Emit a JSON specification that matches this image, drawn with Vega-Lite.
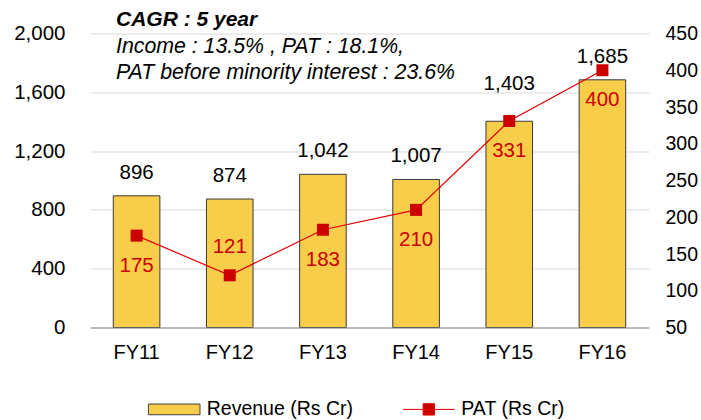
{
  "$schema": "https://vega.github.io/schema/vega-lite/v6.json",
  "width": 559,
  "height": 294,
  "autosize": {"type": "none"},
  "padding": {"left": 90, "top": 33.5, "right": 52, "bottom": 92.5},
  "background": "white",
  "config": {
    "font": "Liberation Sans",
    "view": {"stroke": null},
    "axis": {"labelFont": "Liberation Sans", "labelFontSize": 20.5, "labelColor": "black", "ticks": false, "domain": false, "title": null}
  },
  "title": {
    "text": "CAGR : 5 year",
    "subtitle": ["Income : 13.5% , PAT : 18.1%,", "PAT before minority interest : 23.6%"],
    "anchor": "start",
    "frame": "group",
    "offset": -60,
    "dx": 26,
    "font": "Liberation Sans",
    "fontSize": 21,
    "fontStyle": "italic",
    "fontWeight": "bold",
    "color": "black",
    "subtitleFont": "Liberation Sans",
    "subtitleFontSize": 21.3,
    "subtitleFontStyle": "italic",
    "subtitleColor": "black",
    "subtitleLineHeight": 26.7,
    "subtitlePadding": 6
  },
  "data": {
    "values": [
      {"year": "FY11", "revenue": 896, "pat": 175},
      {"year": "FY12", "revenue": 874, "pat": 121},
      {"year": "FY13", "revenue": 1042, "pat": 183},
      {"year": "FY14", "revenue": 1007, "pat": 210},
      {"year": "FY15", "revenue": 1403, "pat": 331},
      {"year": "FY16", "revenue": 1685, "pat": 400}
    ]
  },
  "encoding": {
    "x": {
      "field": "year",
      "type": "nominal",
      "sort": null,
      "scale": {"paddingInner": 0.5, "paddingOuter": 0.25},
      "axis": {"labelAngle": 0, "domain": true, "domainColor": "#888888", "domainWidth": 1.2, "labelPadding": 15, "labelFontSize": 20, "zindex": 2}
    }
  },
  "layer": [
    {
      "encoding": {
        "y": {
          "field": "revenue",
          "type": "quantitative",
          "scale": {"domain": [0, 2000], "nice": false},
          "axis": {"orient": "left", "values": [0, 400, 800, 1200, 1600, 2000], "format": ",.0f", "grid": true, "gridColor": "#D9D9D9", "gridWidth": 1, "labelPadding": 25}
        }
      },
      "layer": [
        {
          "mark": {"type": "bar", "stroke": "#3a3a3a", "strokeWidth": 1},
          "encoding": {
            "fill": {
              "datum": "Revenue (Rs Cr)",
              "type": "nominal",
              "scale": {"domain": ["Revenue (Rs Cr)"], "range": ["#F8CD4A"]},
              "legend": {
                "orient": "none",
                "legendX": 57.7,
                "legendY": 349.4,
                "title": null,
                "padding": 0,
                "symbolType": "M-1,-0.207H1V0.207H-1Z",
                "symbolSize": 2662,
                "symbolStrokeColor": "#404040",
                "symbolStrokeWidth": 1,
                "labelFont": "Liberation Sans",
                "labelFontSize": 19.5,
                "labelColor": "black",
                "labelOffset": 6
              }
            }
          }
        },
        {
          "transform": [{"filter": "datum.year !== 'FY15'"}],
          "mark": {"type": "text", "dy": -23, "baseline": "middle", "fontSize": 20.5, "color": "black"},
          "encoding": {"text": {"field": "revenue", "type": "quantitative", "format": ","}}
        },
        {
          "transform": [{"filter": "datum.year === 'FY15'"}],
          "mark": {"type": "text", "dy": -37, "baseline": "middle", "fontSize": 20.5, "color": "black"},
          "encoding": {"text": {"field": "revenue", "type": "quantitative", "format": ","}}
        }
      ]
    },
    {
      "encoding": {
        "y": {
          "field": "pat",
          "type": "quantitative",
          "scale": {"domain": [50, 450], "nice": false, "zero": false},
          "axis": {"orient": "right", "values": [50, 100, 150, 200, 250, 300, 350, 400, 450], "grid": false, "labelPadding": 16, "labelFontSize": 19.5}
        }
      },
      "layer": [
        {
          "mark": {"type": "line", "strokeWidth": 1.2},
          "encoding": {
            "stroke": {
              "datum": "PAT (Rs Cr)",
              "type": "nominal",
              "scale": {"domain": ["PAT (Rs Cr)"], "range": ["#E00000"]},
              "legend": {
                "orient": "none",
                "legendX": 312.3,
                "legendY": 349.4,
                "title": null,
                "padding": 0,
                "symbolType": "M-1,0H1M-0.22,-0.22H0.22V0.22H-0.22Z",
                "symbolSize": 2662,
                "symbolStrokeWidth": 1,
                "symbolFillColor": "#CC0000",
                "labelFont": "Liberation Sans",
                "labelFontSize": 19.5,
                "labelColor": "black",
                "labelOffset": 6,
                "encode": {"symbols": {"update": {"fill": {"value": "#CC0000"}, "stroke": {"value": "#E00000"}, "opacity": {"value": 1}}}}
              }
            }
          }
        },
        {
          "mark": {"type": "point", "shape": "square", "filled": true, "size": 144, "color": "#CC0000", "opacity": 1},
          "encoding": {}
        },
        {
          "transform": [{"filter": "datum.year !== 'FY12'"}],
          "mark": {"type": "text", "dy": 30, "baseline": "middle", "fontSize": 20.5, "color": "#CC0000"},
          "encoding": {"text": {"field": "pat", "type": "quantitative"}}
        },
        {
          "transform": [{"filter": "datum.year === 'FY12'"}],
          "mark": {"type": "text", "dy": -28, "baseline": "middle", "fontSize": 20.5, "color": "#CC0000"},
          "encoding": {"text": {"field": "pat", "type": "quantitative"}}
        }
      ]
    }
  ],
  "resolve": {"scale": {"y": "independent"}}
}
